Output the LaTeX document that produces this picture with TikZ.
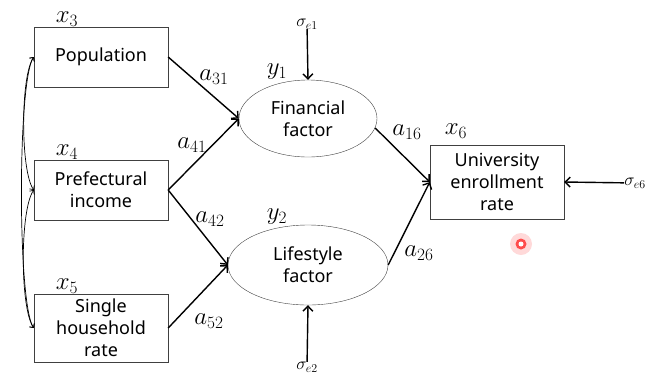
\documentclass[tikz,border=0pt]{standalone}
\usepackage{amsmath}
\usepackage{fontspec}
\setsansfont{Noto Sans}
\usetikzlibrary{arrows,arrows.meta,positioning,shapes}
\tikzset{%
  >={Straight Barb[length=5pt,width=10pt]},
  box/.style={draw=black!75,rectangle,minimum width=134pt,minimum height=60pt,
              align=center,inner sep=2pt,
              font=\sffamily\fontsize{18}{22}\selectfont},
  fac/.style={draw=black!75,ellipse,inner sep=0pt,align=center,
              font=\sffamily\fontsize{18}{22}\selectfont},
  v/.style={inner sep=0pt,font=\fontsize{24}{26}\selectfont},
  e/.style={inner sep=0pt,font=\fontsize{17}{18}\selectfont},
  line/.style={draw,line width=1.4pt,->},
  cov/.style={draw,line width=.7pt,{Straight Barb[length=3pt,width=6pt]}-{Straight Barb[length=3pt,width=6pt]}}
}
\begin{document}
\begin{tikzpicture}[x=1pt,y=-1pt]
  \useasboundingbox (0,0) rectangle (654,376);
  % observed variables
  \node[box] (pop) at (101,57) {Population};
  \node[box] (pref) at (101,190) {Prefectural\\income};
  \node[box,minimum height=68pt] (single) at (101,328) {Single\\household\\rate};
  \node[box,minimum height=74pt] (univ) at (497,182) {University\\enrollment\\rate};
  % latent factors
  \node[fac,minimum width=138pt,minimum height=77pt] (fin) at (308,118.5) {Financial\\factor};
  \node[fac,minimum width=160pt,minimum height=80pt] (life) at (308,265) {Lifestyle\\factor};
  % variable names
  \node[v] (x3) at (67,19) {$x_3$};
  \node[v] (x4) at (67,152) {$x_4$};
  \node[v] (x5) at (67,286) {$x_5$};
  \node[v] (x6) at (456,131) {$x_6$};
  \node[v] (y1) at (277,72) {$y_1$};
  \node[v] (y2) at (277,217) {$y_2$};
  % errors
  \node[e] (se1) at (307,24) {$\sigma_{e1}$};
  \node[e] (se2) at (307,367) {$\sigma_{e2}$};
  \node[e] (se6) at (635,183) {$\sigma_{e6}$};
  % paths
  \path[line] (pop.east) -- (fin.west);
  \path[line] (pref.east) -- (fin.west);
  \path[line] (pref.east) -- (life.west);
  \path[line] (single.east) -- (life.west);
  \path[line] (fin.-8) -- (univ.west);
  \path[line] (life.east) -- (univ.west);
  \path[line] (se1) -- (fin.north);
  \path[line] (se2) -- (life.south);
  \path[line] (se6) -- (univ.east);
  % coefficients
  \node[v] (a31) at (214,77) {$a_{31}$};
  \node[v] (a41) at (192,145) {$a_{41}$};
  \node[v] (a42) at (210,219) {$a_{42}$};
  \node[v] (a52) at (209,321) {$a_{52}$};
  \node[v] (a16) at (407,132) {$a_{16}$};
  \node[v] (a26) at (419,253) {$a_{26}$};
  % covariances
  \path[cov] (pop.west) to[out=235,in=125,looseness=.45] (pref.west);
  \path[cov] (pref.west) to[out=235,in=125,looseness=.45] (single.west);
  \path[cov] (pop.west) to[out=235,in=125,looseness=.27] (single.west);
  % pointer
  \fill[red!15] (521,244) circle (11);
  \fill[red!70] (521,244) circle (5.5);
  \fill[white] (521,244) circle (2.5);
\end{tikzpicture}
\end{document}
